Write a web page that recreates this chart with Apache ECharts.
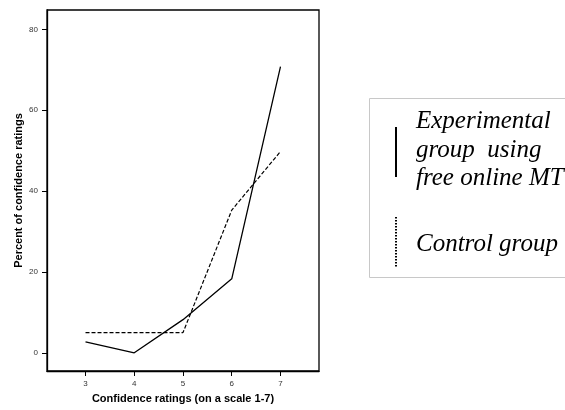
<!DOCTYPE html>
<html>
<head>
<meta charset="utf-8">
<script src="https://cdn.jsdelivr.net/npm/echarts@6/dist/echarts.min.js"></script>
<style>html,body{margin:0;padding:0;background:#fff}#c{width:565px;height:410px}</style>
</head>
<body>
<div id="c"></div>
<script>
const ratings = [3, 4, 5, 6, 7];
const experimental = [2.7, 0, 8.2, 18.3, 70.8];
const control = [5.0, 5.0, 5.0, 35.3, 49.8];
const yTicks = [0, 20, 40, 60, 80];
const legendExperimental = ['Experimental', 'group  using', 'free online MT'];
const legendControl = 'Control group';
const xTitle = 'Confidence ratings (on a scale 1-7)';
const yTitle = 'Percent of confidence ratings';

const chart = echarts.init(document.getElementById('c'), null, {renderer: 'canvas'});
const pair = arr => ratings.map((r, i) => [r, arr[i]]);
const serifFont = 'italic 25px "Liberation Serif", "DejaVu Serif", serif';

const legendText = (txt, y) => ({type: 'text', x: 416, y: y,
  style: {text: txt, font: serifFont, fill: '#000', verticalAlign: 'middle', align: 'left'}});

chart.setOption({
  animation: false,
  grid: {left: 47, top: 10, right: 246, bottom: 39, show: true, borderColor: '#000', borderWidth: 1.3, backgroundColor: 'transparent'},
  xAxis: {
    type: 'value', min: 2.21, max: 7.79,
    name: xTitle, nameLocation: 'middle', nameGap: 22,
    nameTextStyle: {fontFamily: 'Liberation Sans, Arial', fontWeight: 'bold', fontSize: 11, color: '#000'},
    axisLine: {onZero: false, lineStyle: {color: '#000', width: 1.3}},
    axisTick: {show: true, length: 5, customValues: ratings, lineStyle: {color: '#000'}},
    axisLabel: {customValues: ratings, fontSize: 8, color: '#333', margin: 9, fontFamily: 'Liberation Sans, Arial'},
    splitLine: {show: false}
  },
  yAxis: {
    type: 'value', min: -4.5, max: 84.8,
    name: yTitle, nameLocation: 'middle', nameGap: 23, nameRotate: 90,
    nameTextStyle: {fontFamily: 'Liberation Sans, Arial', fontWeight: 'bold', fontSize: 11, color: '#000'},
    axisLine: {show: true, lineStyle: {color: '#000', width: 1.3}},
    axisTick: {show: true, length: 5, customValues: yTicks, lineStyle: {color: '#000'}},
    axisLabel: {customValues: yTicks, fontSize: 8, color: '#333', margin: 9, fontFamily: 'Liberation Sans, Arial'},
    splitLine: {show: false}
  },
  series: [
    {type: 'line', name: 'Experimental', data: pair(experimental), symbol: 'none',
     lineStyle: {color: '#000', width: 1.3, type: 'solid'}},
    {type: 'line', name: 'Control', data: pair(control), symbol: 'none',
     lineStyle: {color: '#000', width: 1.2, type: [4, 2]}}
  ],
  graphic: [
    {type: 'rect', shape: {x: 369.5, y: 98.5, width: 210, height: 179}, style: {fill: '#fff', stroke: '#c8c8c8', lineWidth: 1}},
    {type: 'line', shape: {x1: 396, y1: 127, x2: 396, y2: 177}, style: {stroke: '#000', lineWidth: 2}},
    {type: 'line', shape: {x1: 396, y1: 217, x2: 396, y2: 267}, style: {stroke: '#000', lineWidth: 2, lineDash: [1.5, 1.5]}},
    legendText(legendExperimental[0], 121.5),
    legendText(legendExperimental[1], 150),
    legendText(legendExperimental[2], 178.5),
    legendText(legendControl, 244.5)
  ]
});
</script>
</body>
</html>
